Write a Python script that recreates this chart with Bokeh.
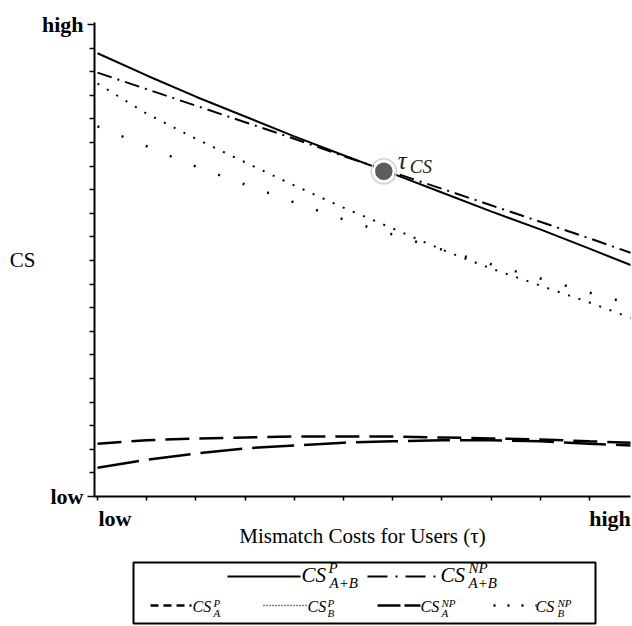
from bokeh.plotting import figure
from bokeh.models import Range1d, FixedTicker, LinearAxis
from bokeh.layouts import column
from bokeh.core.properties import value
from bokeh.embed import file_html
from bokeh.resources import INLINE

# ---------------- data (relative units: 0 = low, 1 = high) ----------------
tau = [0.0, 0.1, 0.2, 0.3, 0.4, 0.5, 0.6, 0.7, 0.8, 0.9, 1.0, 1.085]
cs_ab_p = [0.939, 0.892, 0.847, 0.805, 0.763, 0.723, 0.684, 0.644, 0.604, 0.566, 0.525, 0.490]
cs_ab_np = [0.898, 0.863, 0.828, 0.793, 0.758, 0.721, 0.687, 0.652, 0.617, 0.582, 0.547, 0.516]
cs_a_p = [0.112, 0.119, 0.123, 0.125, 0.127, 0.127, 0.127, 0.125, 0.123, 0.121, 0.117, 0.114]
cs_b_p = [0.875, 0.811, 0.758, 0.708, 0.659, 0.612, 0.568, 0.523, 0.483, 0.447, 0.411, 0.378]
cs_a_np = [0.061, 0.078, 0.091, 0.102, 0.108, 0.114, 0.117, 0.119, 0.119, 0.117, 0.112, 0.108]
cs_b_np = [0.784, 0.742, 0.699, 0.661, 0.623, 0.587, 0.555, 0.523, 0.492, 0.462, 0.432, 0.408]

tau_cs = [0.582]
cs_at_tau_cs = [0.689]

x_tick_marks = [0.0, 0.1, 0.2, 0.3, 0.4, 0.5, 0.6, 0.7, 0.8, 0.9, 1.0]
x_label_ticks = [0.0356, 1.0418]
x_tick_labels = {0.0356: "low", 1.0418: "high"}
y_label_ticks = [0.0, 1.0]
y_tick_labels = {0.0: "low", 1.0: "high"}
y_tick_marks = [0.05, 0.1, 0.15, 0.2, 0.25, 0.3, 0.35, 0.4, 0.45, 0.5, 0.55, 0.6, 0.65,
                0.7, 0.75, 0.8, 0.85, 0.9, 0.95]
x_title = "Mismatch Costs for Users (\u03c4)"
y_title = "CS"

SERIF = "Liberation Serif"

# ---------------- main plot ----------------
p = figure(width=632, height=556,
           x_range=Range1d(-0.0061, 1.0835), y_range=Range1d(0, 1.0042),
           output_backend="svg", toolbar_location=None,
           min_border_left=94, min_border_right=2, min_border_top=22, min_border_bottom=60)
p.outline_line_color = None
p.xgrid.visible = False
p.ygrid.visible = False

ya = p.left[0]
ya.ticker = FixedTicker(ticks=y_label_ticks, minor_ticks=y_tick_marks)
ya.major_label_overrides = y_tick_labels
ya.major_label_text_font = SERIF
ya.major_label_text_font_style = "bold"
ya.major_label_text_font_size = "22px"
ya.major_label_text_color = "black"
ya.major_label_standoff = 4
ya.major_tick_in = 0
ya.major_tick_out = 7
ya.minor_tick_in = 0
ya.minor_tick_out = 5
ya.axis_line_width = 2
ya.axis_line_color = "black"
ya.major_tick_line_width = 1.5
ya.minor_tick_line_width = 1.5
ya.major_tick_line_color = "black"
ya.minor_tick_line_color = "black"

cs_axis = LinearAxis(ticker=FixedTicker(ticks=[0.5], minor_ticks=[]),
                     major_label_overrides={0.5: y_title},
                     axis_line_color=None, major_tick_line_color=None,
                     minor_tick_line_color=None,
                     major_tick_in=0, major_tick_out=0, minor_tick_in=0, minor_tick_out=0,
                     major_label_standoff=3,
                     major_label_text_font=SERIF,
                     major_label_text_font_size="21px",
                     major_label_text_color="black")
p.add_layout(cs_axis, "left")

xa = p.below[0]
xa.ticker = FixedTicker(ticks=x_label_ticks, minor_ticks=x_tick_marks)
xa.major_label_overrides = x_tick_labels
xa.major_tick_line_color = None
xa.major_tick_in = 0
xa.major_tick_out = 0
xa.minor_tick_in = 0
xa.minor_tick_out = 4
xa.minor_tick_line_width = 1.5
xa.minor_tick_line_color = "black"
xa.axis_line_width = 2
xa.axis_line_color = "black"
xa.major_label_standoff = 5
xa.major_label_text_font = SERIF
xa.major_label_text_font_style = "bold"
xa.major_label_text_font_size = "22px"
xa.major_label_text_color = "black"
xa.axis_label = x_title
xa.axis_label_standoff = -10
xa.axis_label_text_font = SERIF
xa.axis_label_text_font_style = "normal"
xa.axis_label_text_font_size = "21px"
xa.axis_label_text_color = "black"

p.line(tau, cs_a_np, line_color="black", line_width=2.5, line_dash="42 10")
p.line(tau, cs_a_p, line_color="black", line_width=2.5, line_dash="24 10")
p.line(tau, cs_b_np, line_color="black", line_width=2.5, line_dash="2 24")
p.line(tau, cs_b_p, line_color="black", line_width=2, line_dash="2 9")
p.line(tau, cs_ab_np, line_color="black", line_width=2, line_dash="15 6 2 6")
p.line(tau, cs_ab_p, line_color="black", line_width=2)

p.scatter(tau_cs, cs_at_tau_cs, size=25, fill_color=None, line_color="#d0d0d0", line_width=1.5)
p.scatter(tau_cs, cs_at_tau_cs, size=20, fill_color="#5c5c5c", line_color="white", line_width=2.5)
p.text(tau_cs, cs_at_tau_cs, text=["\u03c4"], x_offset=14, y_offset=-11,
       text_font=value(SERIF), text_font_style="italic", text_font_size="25px",
       text_align="left", text_baseline="alphabetic", text_color="#222222")
p.text(tau_cs, cs_at_tau_cs, text=["CS"], x_offset=26, y_offset=-5,
       text_font=value(SERIF), text_font_style="italic", text_font_size="19px",
       text_align="left", text_baseline="alphabetic", text_color="#222222")

# ---------------- legend panel (its own pixel-like coordinate space) ----------------
lg = figure(width=632, height=70, x_range=Range1d(94, 630), y_range=Range1d(626, 556),
            x_axis_location=None, y_axis_location=None,
            output_backend="svg", toolbar_location=None,
            min_border_left=94, min_border_right=2, min_border_top=0, min_border_bottom=0)
lg.outline_line_color = None
lg.grid.visible = False

lg.quad(left=[133], right=[595], top=[562], bottom=[623],
        fill_color=None, line_color="black", line_width=2)

# (x start, x end, y, dash, width)
legend_samples = [
    (227, 300, 576, "solid", 2),
    (367, 438, 576, "20 8 2 8", 2),
    (150, 191, 605, "8 5", 2.5),
    (263, 306, 605, "1 2", 1.5),
    (377, 420, 605, "23 4", 2.5),
    (493, 536, 605, "2 12", 2.5),
]
for x0, x1, yy, dash, w in legend_samples:
    lg.line([x0, x1], [yy, yy], line_color="black", line_width=w, line_dash=dash)

# (x, y, text, size)
legend_texts = [
    (301, 574.5, "CS", "21px"), (328, 567, "P", "15px"), (329, 582.5, "A+B", "15px"),
    (440, 574.5, "CS", "21px"), (468, 567, "NP", "15px"), (468, 582.5, "A+B", "15px"),
    (192, 606, "CS", "16px"), (213, 602.5, "P", "11px"), (213, 612, "A", "11px"),
    (307, 606, "CS", "16px"), (327, 602.5, "P", "11px"), (327, 612, "B", "11px"),
    (420, 606, "CS", "16px"), (441, 602.5, "NP", "11px"), (441, 612, "A", "11px"),
    (535, 606, "CS", "16px"), (557, 602.5, "NP", "11px"), (557, 612, "B", "11px"),
]
for tx, ty, tt, ts in legend_texts:
    lg.text([tx], [ty], text=[tt], text_font=value(SERIF), text_font_style="italic",
            text_font_size=ts, text_align="left", text_baseline="middle",
            text_color="black")

layout = column(p, lg, spacing=0)
open("out.html", "w").write(file_html(layout, INLINE))
